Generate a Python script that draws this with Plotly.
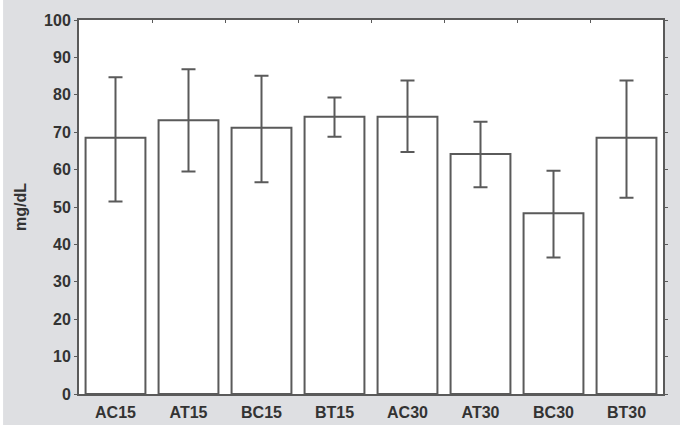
import plotly.graph_objects as go

groups = ["AC15", "AT15", "BC15", "BT15", "AC30", "AT30", "BC30", "BT30"]
means = [68.5, 73.2, 71.2, 74.1, 74.1, 64.2, 48.3, 68.5]
err_plus = [16.2, 13.6, 13.9, 5.2, 9.7, 8.6, 11.4, 15.3]
err_minus = [17.0, 13.7, 14.6, 5.3, 9.4, 8.9, 11.8, 16.0]
y_ticks = [0, 10, 20, 30, 40, 50, 60, 70, 80, 90, 100]

LINE = "#5a5a5a"
FONT = dict(family="Liberation Sans, Arial, sans-serif", size=16, color="#333333", weight="bold")

fig = go.Figure()
fig.add_trace(go.Bar(
    x=groups, y=means,
    marker=dict(color="white", line=dict(color=LINE, width=2)),
    error_y=dict(type="data", symmetric=False, array=err_plus, arrayminus=err_minus,
                 color=LINE, thickness=2, width=7),
    showlegend=False,
))
# invisible trace on the top helper axis (category boundary ticks)
fig.add_trace(go.Scatter(x=[0], y=[0], xaxis="x2", mode="markers",
                         marker=dict(opacity=0), showlegend=False, hoverinfo="skip"))

fig.update_layout(
    width=685, height=425,
    margin=dict(l=79, r=22, t=20, b=31),
    paper_bgcolor="#dedfe2",
    plot_bgcolor="white",
    bargap=0.18,
    font=FONT,
    xaxis=dict(showline=True, linecolor=LINE, linewidth=2, mirror=True,
               ticks="outside", ticklen=3, tickcolor="rgba(0,0,0,0)",
               showgrid=False, tickfont=FONT, range=[-0.5, 7.5], automargin=False),
    xaxis2=dict(overlaying="x", side="top", range=[-0.5, 7.5],
                tickvals=[0.5, 1.5, 2.5, 3.5, 4.5, 5.5, 6.5], ticks="inside",
                ticklen=3, tickcolor=LINE, showticklabels=False, showgrid=False,
                zeroline=False, showline=False, automargin=False),
    yaxis=dict(range=[0, 100], tickvals=y_ticks, showline=True, linecolor=LINE,
               linewidth=2, mirror="ticks", ticks="outside", ticklen=3,
               tickcolor=LINE, showgrid=False, zeroline=False, tickfont=FONT,
               automargin=False,
               title=dict(text="mg/dL", font=FONT, standoff=13)),
    shapes=[
        dict(type="rect", xref="paper", yref="paper", x0=-0.14, x1=-0.130,
             y0=-0.1, y1=1.1, fillcolor="white", line=dict(width=0), layer="below"),
        dict(type="rect", xref="paper", yref="paper", x0=1.0291, x1=1.04,
             y0=-0.1, y1=1.1, fillcolor="white", line=dict(width=0), layer="below"),
    ],
)

fig.write_html("out.html")
